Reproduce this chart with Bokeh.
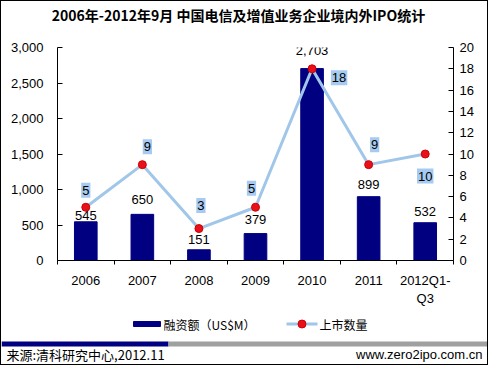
from bokeh.plotting import figure
from bokeh.layouts import column
from bokeh.models import (Range1d, LinearAxis, FixedTicker, NumeralTickFormatter,
                          ColumnDataSource, Label)
from bokeh.embed import file_html
from bokeh.resources import INLINE

# ---- data ----
categories = ["2006", "2007", "2008", "2009", "2010", "2011", "2012Q1-\nQ3"]
funding = [545, 650, 151, 379, 2703, 899, 532]          # 融资额 (US$M)
ipo_count = [5, 9, 3, 5, 18, 9, 10]                     # 上市数量
left_ticks = [0, 500, 1000, 1500, 2000, 2500, 3000]
right_ticks = [0, 2, 4, 6, 8, 10, 12, 14, 16, 18, 20]
title_text = "2006年-2012年9月 中国电信及增值业务企业境内外IPO统计"
bar_name = "融资额（US$M）"
line_name = "上市数量"
source_text = "来源:清科研究中心,2012.11"
site_text = "www.zero2ipo.com.cn"

# ---- label placement (style, pixels) ----
bar_label_dy = [6, 15, 10, 14, 18, 12, 11]
cnt_dx = [0, 5, 2, -4, 27, 6, 0]
cnt_dy = [-17, -18, -23, -19, 9, -20, 22]

NUM_FONT = "Liberation Sans"
CJK_FONT = "Noto Sans CJK SC"
NAVY = "#000080"
LBLUE = "#A0C6EA"
BOXBLUE = "#A6CAF0"
RED = "#E8101A"
W = 486


def blank_fig(h):
    f = figure(width=W, height=h, output_backend="svg", toolbar_location=None,
               x_axis_type=None, y_axis_type=None, frame_align=False,
               x_range=Range1d(0, W), y_range=Range1d(h, 0), min_border=0)
    f.outline_line_color = None
    f.background_fill_color = "white"
    f.border_fill_color = "white"
    return f


# ---------------- title strip ----------------
top = blank_fig(33)
top.add_layout(Label(x=237, y=13, text=title_text, text_align="center",
                     text_baseline="middle", text_font=CJK_FONT,
                     text_font_size="14px", text_font_style="bold", text_color="black"))

# ---------------- main chart ----------------
p = figure(width=W, height=274, output_backend="svg", toolbar_location=None,
           frame_align=False,
           x_range=Range1d(0, len(categories)), y_range=Range1d(0, 3000),
           min_border_left=56, min_border_right=34, min_border_top=13,
           min_border_bottom=43)
p.outline_line_color = None
p.xgrid.grid_line_color = None
p.ygrid.grid_line_color = None
p.background_fill_color = "white"
p.border_fill_color = "white"
p.extra_y_ranges = {"cnt": Range1d(0, 20)}

xs = [i + 0.5 for i in range(len(categories))]
src = ColumnDataSource(dict(x=xs, funding=funding, cnt=ipo_count))

bars = p.vbar(x="x", top="funding", width=0.4, source=src,
              fill_color=NAVY, line_color=NAVY)
line = p.line(x="x", y="cnt", source=src, y_range_name="cnt",
              line_color=LBLUE, line_width=3)
pts = p.scatter(x="x", y="cnt", source=src, y_range_name="cnt", size=8,
                fill_color=RED, line_color="#D00000", line_width=1)

xa = p.xaxis[0]
xa.ticker = FixedTicker(ticks=xs, minor_ticks=list(range(len(categories) + 1)))
xa.major_label_overrides = {x: c for x, c in zip(xs, categories)}
xa.major_tick_line_color = None
xa.minor_tick_in = 0
xa.minor_tick_out = 4
xa.minor_tick_line_color = "black"
xa.axis_line_color = "black"
xa.major_label_standoff = 6
xa.major_label_text_font = NUM_FONT
xa.major_label_text_font_size = "13px"
xa.major_label_text_color = "black"

ya = p.yaxis[0]
ya.ticker = FixedTicker(ticks=left_ticks)
ya.formatter = NumeralTickFormatter(format="0,0")
ya.major_tick_in = 5
ya.major_tick_out = 0
ya.minor_tick_line_color = None
ya.axis_line_color = "black"
ya.major_tick_line_color = "black"
ya.major_label_standoff = 14
ya.major_label_text_font = NUM_FONT
ya.major_label_text_font_size = "13px"
ya.major_label_text_color = "black"

ra = LinearAxis(y_range_name="cnt", ticker=FixedTicker(ticks=right_ticks))
ra.major_tick_in = 5
ra.major_tick_out = 0
ra.minor_tick_line_color = None
ra.axis_line_color = "black"
ra.major_tick_line_color = "black"
ra.major_label_standoff = 6
ra.major_label_text_font = NUM_FONT
ra.major_label_text_font_size = "13px"
ra.major_label_text_color = "black"
p.add_layout(ra, "right")

for x, v, dy in zip(xs, funding, bar_label_dy):
    p.add_layout(Label(x=x, y=v, text=f"{v:,}", y_offset=dy,
                       text_align="center", text_baseline="middle",
                       text_font=NUM_FONT, text_font_size="13px", text_color="black"))

for x, v, dx, dy in zip(xs, ipo_count, cnt_dx, cnt_dy):
    p.add_layout(Label(x=x, y=v, y_range_name="cnt", text=str(v),
                       x_offset=dx, y_offset=-dy,
                       text_align="center", text_baseline="middle",
                       text_font=NUM_FONT, text_font_size="13px", text_color="black",
                       background_fill_color=BOXBLUE, padding=(1, 3)))

# ---------------- legend + footer strip ----------------
bot = blank_fig(56)
bot.quad(left=[132], right=[159], top=[13], bottom=[18], fill_color=NAVY, line_color=NAVY)
bot.add_layout(Label(x=162, y=15.5, text=bar_name, text_align="left", text_baseline="middle",
                     text_font=CJK_FONT, text_font_size="12px", text_color="black"))
bot.line(x=[285, 316], y=[15.5, 15.5], line_color=LBLUE, line_width=3)
bot.scatter(x=[300.5], y=[15.5], size=8, fill_color=RED, line_color="#D00000")
bot.add_layout(Label(x=318, y=15.5, text=line_name, text_align="left", text_baseline="middle",
                     text_font=CJK_FONT, text_font_size="12px", text_color="black"))
bot.quad(left=[0], right=[167], top=[33], bottom=[38], fill_color=NAVY, line_color=None)
bot.quad(left=[167], right=[W], top=[33], bottom=[38], fill_color="#A0A0A0", line_color=None)
bot.add_layout(Label(x=5, y=46, text=source_text, text_align="left", text_baseline="middle",
                     text_font=CJK_FONT, text_font_size="13px", text_color="black"))
bot.add_layout(Label(x=481, y=46, text=site_text, text_align="right", text_baseline="middle",
                     text_font=NUM_FONT, text_font_size="13px", text_color="black"))

layout = column(top, p, bot, spacing=0,
                styles={"border": "1px solid black", "width": "fit-content"})

open("out.html", "w").write(file_html(layout, INLINE))
